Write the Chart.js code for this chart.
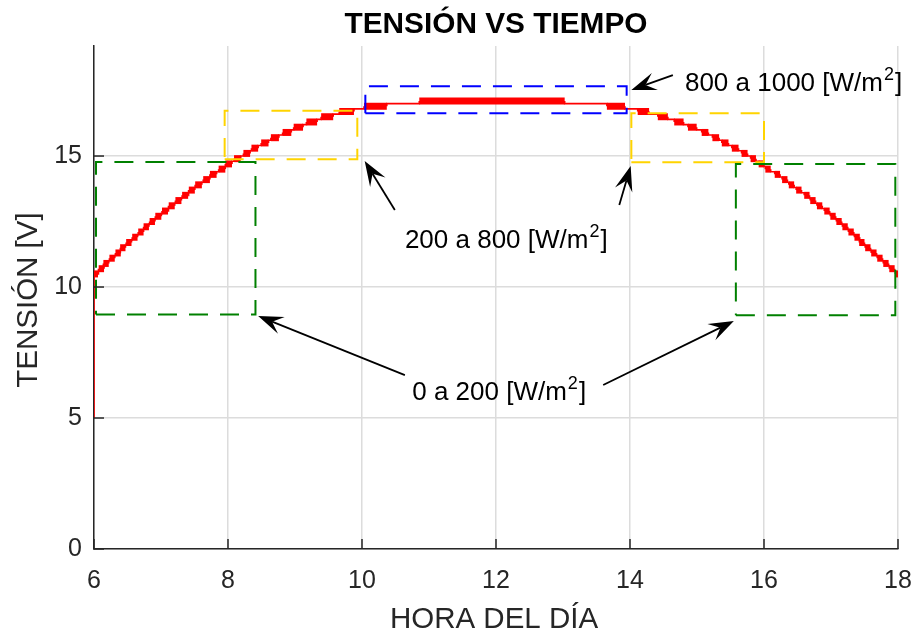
<!DOCTYPE html>
<html>
<head>
<meta charset="utf-8">
<script src="https://cdn.jsdelivr.net/npm/chart.js@4.4.0/dist/chart.umd.min.js"></script>
<style>
  body { margin: 0; background: #fff; }
  #wrap { width: 916px; height: 634px; }
</style>
</head>
<body>
<div id="wrap"><canvas id="grafico" width="916" height="634"></canvas></div>
<script>
// Escalones de tensión: hora central, tensión y duración (h)
const horaBloque = [6.03, 6.11, 6.18, 6.27, 6.36, 6.43, 6.52, 6.61, 6.70, 6.78, 6.87, 6.96, 7.06, 7.16, 7.26, 7.36, 7.46,
  7.56, 7.68, 7.78, 7.91, 8.01, 8.14, 8.28, 8.40, 8.55, 8.70, 8.88, 9.05, 9.25, 9.48, 9.77, 10.20,
  11.94,
  13.79, 14.20, 14.49, 14.73, 14.93, 15.12, 15.28, 15.42, 15.57, 15.71, 15.84, 15.96, 16.06, 16.20, 16.31, 16.41, 16.52,
  16.64, 16.73, 16.83, 16.94, 17.03, 17.12, 17.21, 17.30, 17.39, 17.46, 17.55, 17.64, 17.73, 17.82, 17.91, 17.98];
const tensionBloque = [10.5, 10.7, 10.9, 11.1, 11.3, 11.5, 11.7, 11.9, 12.1, 12.3, 12.5, 12.7, 12.9, 13.1, 13.3, 13.5, 13.7,
  13.9, 14.1, 14.3, 14.5, 14.7, 14.9, 15.1, 15.3, 15.5, 15.7, 15.9, 16.1, 16.3, 16.5, 16.7, 16.9,
  17.1,
  16.9, 16.7, 16.5, 16.3, 16.1, 15.9, 15.7, 15.5, 15.3, 15.1, 14.9, 14.7, 14.5, 14.3, 14.1, 13.9, 13.7,
  13.5, 13.3, 13.1, 12.9, 12.7, 12.5, 12.3, 12.1, 11.9, 11.7, 11.5, 11.3, 11.1, 10.9, 10.7, 10.5];
const duracionBloque = [0.06, 0.08, 0.08, 0.08, 0.08, 0.08, 0.08, 0.08, 0.08, 0.08, 0.08, 0.09, 0.09, 0.09, 0.09, 0.09, 0.09,
  0.10, 0.10, 0.10, 0.10, 0.10, 0.10, 0.10, 0.10, 0.11, 0.12, 0.13, 0.14, 0.16, 0.18, 0.22, 0.34,
  2.17,
  0.27, 0.17, 0.15, 0.14, 0.13, 0.10, 0.10, 0.10, 0.10, 0.09, 0.08, 0.08, 0.08, 0.08, 0.08, 0.08, 0.08,
  0.08, 0.08, 0.08, 0.08, 0.08, 0.08, 0.08, 0.08, 0.08, 0.08, 0.08, 0.08, 0.08, 0.08, 0.08, 0.04];
const tensionInicial = 5.0;

// Recuadros de irradiancia: [hora inicio, hora fin, tensión mínima, tensión máxima]
const recuadroVerdeIzq = [6.03, 8.41, 8.95, 14.77];
const recuadroVerdeDer = [15.58, 17.96, 8.92, 14.70];
const recuadroAmarilloIzq = [7.95, 9.93, 14.88, 16.73];
const recuadroAmarilloDer = [14.02, 16.00, 14.76, 16.63];
const recuadroAzul = [10.05, 13.95, 16.63, 17.66];

const etiquetas = ['800 a 1000 [W/m', '200 a 800 [W/m', '0 a 200 [W/m'];
const ticksX = [6, 8, 10, 12, 14, 16, 18];
const ticksY = [0, 5, 10, 15];

// Curva: tramos gruesos donde la tensión oscila entre dos niveles
const curva = [];
const grueso = [];
function agregar(x, y, g) { curva.push({ x: x, y: y }); grueso.push(g); }

agregar(6, tensionInicial, false);
let finAnterior = 6;
horaBloque.forEach((h, i) => {
  const a = h - duracionBloque[i] / 2;
  const b = h + duracionBloque[i] / 2;
  const medio = i === 0 ? tensionBloque[0] - 0.1 : (tensionBloque[i - 1] + tensionBloque[i]) / 2;
  agregar(finAnterior, medio, false);
  agregar(a, medio, false);
  agregar(a, tensionBloque[i], true);
  agregar(b, tensionBloque[i], false);
  finAnterior = b;
});

function rectangulo(r) {
  return [
    { x: r[0], y: r[2] }, { x: r[1], y: r[2] }, { x: r[1], y: r[3] },
    { x: r[0], y: r[3] }, { x: r[0], y: r[2] }
  ];
}

function dsRecuadro(r, color) {
  return {
    data: rectangulo(r),
    borderColor: color,
    borderWidth: 2,
    borderDash: [19, 12],
    pointRadius: 0,
    fill: false,
    tension: 0,
    order: 1
  };
}

const fuente = "'Liberation Sans', Arial, Helvetica, sans-serif";

function flecha(ctx, x0, y0, x1, y1) {
  const ang = Math.atan2(y1 - y0, x1 - x0);
  const L = 25, W = 9, muesca = 15;
  const c = Math.cos(ang), s = Math.sin(ang);
  ctx.beginPath();
  ctx.moveTo(x0, y0);
  ctx.lineTo(x1 - muesca * c, y1 - muesca * s);
  ctx.stroke();
  ctx.beginPath();
  ctx.moveTo(x1, y1);
  ctx.lineTo(x1 - L * c + W * s, y1 - L * s - W * c);
  ctx.lineTo(x1 - muesca * c, y1 - muesca * s);
  ctx.lineTo(x1 - L * c - W * s, y1 - L * s + W * c);
  ctx.closePath();
  ctx.fill();
}

function textoConExponente(ctx, texto, x, y) {
  ctx.font = '26px ' + fuente;
  ctx.textAlign = 'left';
  ctx.textBaseline = 'alphabetic';
  ctx.fillText(texto, x, y);
  let w = ctx.measureText(texto).width;
  ctx.font = '18px ' + fuente;
  ctx.fillText('2', x + w + 1, y - 11);
  w += ctx.measureText('2').width + 2;
  ctx.font = '26px ' + fuente;
  ctx.fillText(']', x + w, y);
}

const decoracion = {
  id: 'decoracion',
  afterDraw(chart) {
    const { ctx, chartArea: ca, scales } = chart;
    const sx = scales.x, sy = scales.y;
    const X = v => sx.getPixelForValue(v);
    const Y = v => sy.getPixelForValue(v);
    ctx.save();

    // marcas hacia dentro
    ctx.strokeStyle = '#262626';
    ctx.lineWidth = 1.5;
    ticksX.forEach(v => {
      ctx.beginPath(); ctx.moveTo(X(v), ca.bottom); ctx.lineTo(X(v), ca.bottom - 10); ctx.stroke();
    });
    ticksY.forEach(v => {
      ctx.beginPath(); ctx.moveTo(ca.left, Y(v)); ctx.lineTo(ca.left + 10, Y(v)); ctx.stroke();
    });

    // títulos
    ctx.fillStyle = '#000';
    ctx.textAlign = 'center';
    ctx.textBaseline = 'alphabetic';
    ctx.font = 'bold 29.8px ' + fuente;
    ctx.fillText('TENSIÓN VS TIEMPO', (ca.left + ca.right) / 2, 33);
    ctx.fillStyle = '#262626';
    ctx.font = '29.5px ' + fuente;
    ctx.fillText('HORA DEL DÍA', (ca.left + ca.right) / 2 - 2, 628);
    ctx.save();
    ctx.translate(37, 300);
    ctx.rotate(-Math.PI / 2);
    ctx.fillText('TENSIÓN [V]', 0, 0);
    ctx.restore();

    // flechas
    ctx.strokeStyle = '#000';
    ctx.fillStyle = '#000';
    ctx.lineWidth = 1.8;
    flecha(ctx, X(14.64), Y(18.09), X(14.02), Y(17.52));
    flecha(ctx, X(10.49), Y(12.94), X(10.04), Y(14.81));
    flecha(ctx, X(13.84), Y(13.13), X(14.01), Y(14.62));
    flecha(ctx, X(10.64), Y(6.64), X(8.45), Y(8.89));
    flecha(ctx, X(13.60), Y(6.26), X(15.55), Y(8.70));

    // textos
    textoConExponente(ctx, etiquetas[0], X(14.82), Y(17.48));
    textoConExponente(ctx, etiquetas[1], X(10.64), Y(11.49));
    textoConExponente(ctx, etiquetas[2], X(10.75), Y(5.69));

    ctx.restore();
  }
};

new Chart(document.getElementById('grafico'), {
  type: 'line',
  data: {
    datasets: [
      {
        data: curva,
        borderColor: '#ff0000',
        borderWidth: 1.5,
        borderCapStyle: 'butt',
        pointRadius: 0,
        tension: 0,
        fill: false,
        order: 2,
        segment: {
          borderWidth: c => grueso[c.p0DataIndex] ? 7 : 1.6
        }
      },
      dsRecuadro(recuadroVerdeIzq, '#008000'),
      dsRecuadro(recuadroVerdeDer, '#008000'),
      dsRecuadro(recuadroAmarilloIzq, '#ffd400'),
      dsRecuadro(recuadroAmarilloDer, '#ffd400'),
      dsRecuadro(recuadroAzul, '#0000ff')
    ]
  },
  options: {
    responsive: false,
    animation: false,
    layout: { padding: { top: 46, right: 18, left: 0, bottom: 0 } },
    plugins: { legend: { display: false }, tooltip: { enabled: false }, title: { display: false } },
    scales: {
      x: {
        type: 'linear',
        min: 6,
        max: 18,
        afterFit: s => { s.height = 85; s.paddingLeft = 0; s.paddingRight = 0; },
        border: { display: true, color: '#262626', width: 1.5 },
        grid: { color: '#dcdcdc', lineWidth: 1.5, drawTicks: false },
        ticks: {
          stepSize: 2,
          padding: 17,
          color: '#262626',
          font: { family: fuente, size: 25 }
        }
      },
      y: {
        type: 'linear',
        min: 0,
        max: 19.2,
        afterFit: s => { s.width = 94; s.paddingTop = 0; s.paddingBottom = 0; },
        border: { display: true, color: '#262626', width: 1.5 },
        grid: { color: '#dcdcdc', lineWidth: 1.5, drawTicks: false },
        ticks: {
          stepSize: 5,
          includeBounds: false,
          padding: 12,
          color: '#262626',
          font: { family: fuente, size: 25 }
        }
      }
    }
  },
  plugins: [decoracion]
});
</script>
</body>
</html>
